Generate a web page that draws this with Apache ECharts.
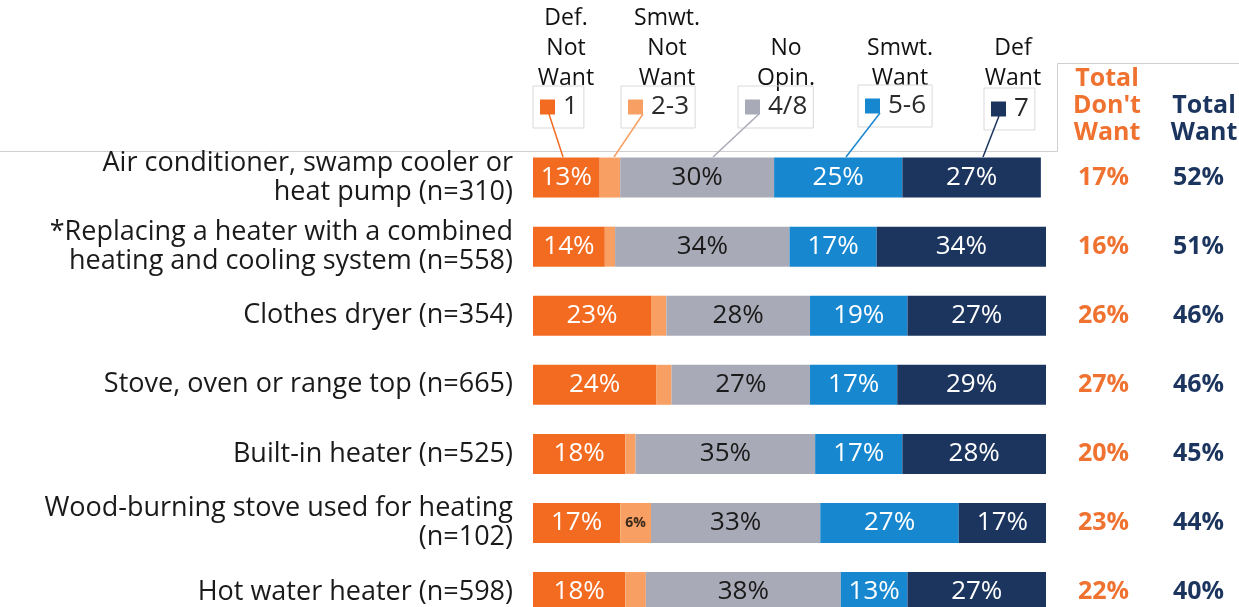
<!DOCTYPE html>
<html>
<head>
<meta charset="utf-8">
<script src="https://cdn.jsdelivr.net/npm/echarts@6/dist/echarts.min.js"></script>
<style>
  html, body { margin: 0; padding: 0; background: #fff; }
  #main { width: 1239px; height: 607px; }
</style>
</head>
<body>
<div id="main"></div>
<script>
// categories (top to bottom)
var categories = [
  'Air conditioner, swamp cooler or\nheat pump (n=310)',
  '*Replacing a heater with a combined\nheating and cooling system (n=558)',
  'Clothes dryer (n=354)',
  'Stove, oven or range top (n=665)',
  'Built-in heater (n=525)',
  'Wood-burning stove used for heating\n(n=102)',
  'Hot water heater (n=598)'
];

// series values, %
var defNot   = [13, 14, 23, 24, 18, 17, 18];
var smwtNot  = [4, 2, 3, 3, 2, 6, 4];
var noOpin   = [30, 34, 28, 27, 35, 33, 38];
var smwtWant = [25, 17, 19, 17, 17, 27, 13];
var defWant  = [27, 34, 27, 29, 28, 17, 27];

// totals column
var totalDont = [17, 16, 26, 27, 20, 23, 22];
var totalWant = [52, 51, 46, 46, 45, 44, 40];

var seriesNames = ['1', '2-3', '4/8', '5-6', '7'];
var headerTexts = ['Def.\nNot\nWant', 'Smwt.\nNot\nWant', 'No\nOpin.', 'Smwt.\nWant', 'Def\nWant'];

var colors = ['#F26B21', '#F8A064', '#A9AAB7', '#1787D0', '#1B355F'];
var orangeTxt = '#EF7230', navyTxt = '#1B355F';
var font = 'Open Sans';

var chart = echarts.init(document.getElementById('main'));

// legend box placement (one little box per series)
var legendLeft = [533, 621, 738, 858, 984];
var legendTop  = [86, 86, 86, 85, 88];
var headerX    = [566, 667, 786, 900, 1013];

function barLabel(col) {
  return {
    show: true,
    position: 'inside',
    formatter: '{c}%',
    color: col,
    fontSize: 26,
    fontFamily: font
  };
}

var allData = [defNot, smwtNot, noOpin, smwtWant, defWant];
var series = seriesNames.map(function (name, i) {
  var d = allData[i];
  var s = {
    name: name,
    type: 'bar',
    stack: 'all',
    barWidth: 40,
    itemStyle: { color: colors[i] },
    label: barLabel(i === 2 ? '#1a1a1a' : '#ffffff'),
    data: d
  };
  if (i === 1) {
    // only the wider light-orange piece carries a label
    s.data = d.map(function (v) {
      return { value: v, label: { show: v >= 5, fontSize: 14, fontWeight: 'bold', color: '#3a2a1a' } };
    });
  }
  return s;
});

var legends = seriesNames.map(function (name, i) {
  return {
    data: [name],
    left: legendLeft[i],
    top: legendTop[i],
    orient: 'horizontal',
    selectedMode: false,
    icon: 'rect',
    itemWidth: 15,
    itemHeight: 15,
    padding: [8, 6, 8, 7],
    borderColor: '#d9d9d9',
    borderWidth: 1,
    textStyle: { fontSize: 26, color: '#2a2a2a', fontFamily: font, padding: [0, 0, 0, 3] }
  };
});

var graphics = [];
// header text above each legend box
headerTexts.forEach(function (t, i) {
  var lines = t.split('\n').length;
  graphics.push({
    type: 'text',
    x: headerX[i],
    y: lines === 3 ? 3 : 33,
    style: {
      text: t, fill: '#111', font: '23px "' + font + '"',
      lineHeight: 30, align: 'center', verticalAlign: 'top'
    }
  });
});
// leader lines from legend squares down to row 1 segments
var leaders = [[549, 114, 563, 157], [643, 114, 614, 157], [759, 114, 713, 157], [880, 113, 846, 157], [999, 116, 983, 157]];
leaders.forEach(function (p, i) {
  graphics.push({
    type: 'line', z: 10,
    shape: { x1: p[0], y1: p[1], x2: p[2], y2: p[3] },
    style: { stroke: colors[i], lineWidth: 1.5 }
  });
});
// thin frame lines
graphics.push({
  type: 'polyline', z: 0,
  shape: { points: [[0, 151.5], [1057.5, 151.5], [1057.5, 63.5], [1239, 63.5]] },
  style: { stroke: '#cfcfcf', lineWidth: 1, fill: null }
});
// totals headers
graphics.push({
  type: 'text', x: 1107, y: 65,
  style: { text: 'Total\nDon\'t\nWant', fill: orangeTxt, font: 'bold 25px "' + font + '"', lineHeight: 27, align: 'center', verticalAlign: 'top' }
});
graphics.push({
  type: 'text', x: 1204, y: 92,
  style: { text: 'Total\nWant', fill: navyTxt, font: 'bold 25px "' + font + '"', lineHeight: 27, align: 'center', verticalAlign: 'top' }
});

var option = {
  backgroundColor: '#ffffff',
  animation: false,
  legend: legends,
  grid: { left: 533, top: 143, width: 513, height: 483.6, outerBoundsMode: 'none', containLabel: false },
  xAxis: { type: 'value', min: 0, max: 100, show: false },
  yAxis: [{
    type: 'category',
    data: categories,
    inverse: true,
    axisLine: { show: false },
    axisTick: { show: false },
    axisLabel: {
      margin: 20,
      fontSize: 27,
      lineHeight: 29,
      color: '#1a1a1a',
      fontFamily: font
    }
  }, {
    type: 'category',
    data: categories,
    inverse: true,
    position: 'right',
    axisLine: { show: false },
    axisTick: { show: false },
    axisLabel: {
      margin: 32,
      align: 'left',
      formatter: function (v, idx) {
        return '{a|' + totalDont[idx] + '%}{b|' + totalWant[idx] + '%}';
      },
      rich: {
        a: { width: 95, fontSize: 25, fontWeight: 'bold', color: orangeTxt, fontFamily: font },
        b: { fontSize: 25, fontWeight: 'bold', color: navyTxt, fontFamily: font }
      }
    }
  }],
  series: series,
  graphic: graphics
};

chart.setOption(option);
</script>
</body>
</html>
